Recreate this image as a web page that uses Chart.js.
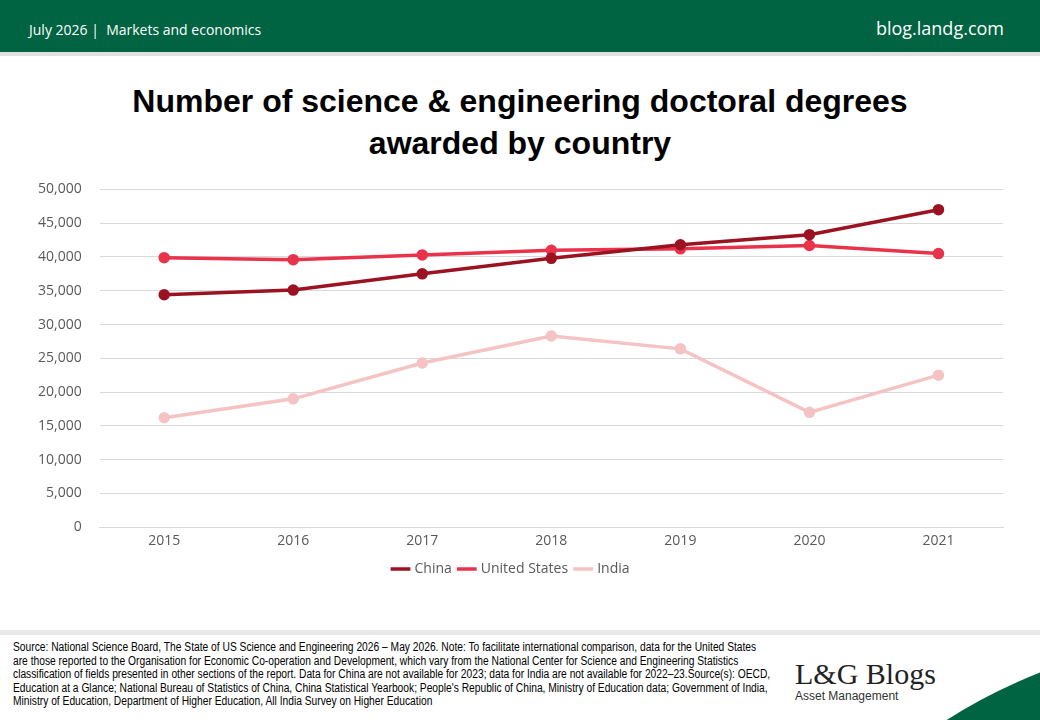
<!DOCTYPE html>
<html>
<head>
<meta charset="utf-8">
<script src="https://cdn.jsdelivr.net/npm/chart.js@4"></script>
<style>
  body { margin: 0; width: 1040px; height: 720px; position: relative; overflow: hidden; background: #fff; font-family: "Open Sans", sans-serif; }
  #top { position: absolute; left: 0; top: 0; width: 1040px; height: 52px; background: #006341; color: #fff; }
  #top .l { position: absolute; left: 29px; top: 20px; font-size: 14px; }
  #top .r { position: absolute; right: 36px; top: 16px; font-size: 18px; }
  #strip { position: absolute; left: 0; top: 52px; width: 1040px; height: 4px; background: #e0e0e0; }
  h1 { position: absolute; left: 0; width: 1040px; top: 80px; margin: 0; text-align: center; font: bold 32px/42px "Liberation Sans", Arial, sans-serif; color: #000; }
  #wrap { position: absolute; left: 20px; top: 163px; width: 1000px; height: 423px; }
  #foot { position: absolute; left: 0; top: 630px; width: 1040px; height: 90px; background: #fff; border-top: 5px solid #e8e8e8; box-sizing: border-box; }
  #foot p { position: absolute; left: 13px; top: 6px; width: 927px; margin: 0; font: 12.5px/13.6px "Liberation Sans", Arial, sans-serif; color: #000; transform: scaleX(0.82); transform-origin: 0 0; }
  #logo { position: absolute; left: 795px; top: 22px; font: 30px "Liberation Serif", serif; color: #222; }
  #logo span { display: block; font: 12px "Liberation Sans", Arial, sans-serif; margin-top: -2px; color: #333; }
  #swoosh { position: absolute; left: 840px; top: 40px; width: 420px; height: 160px; border-radius: 50%; background: #006341; transform: rotate(-24deg); }
</style>
</head>
<body>
<div id="top"><div class="l">July 2026 |&nbsp; Markets and economics</div><div class="r">blog.landg.com</div></div>
<div id="strip"></div>
<h1>Number of science &amp; engineering doctoral degrees<br>awarded by country</h1>
<div id="wrap"><canvas id="c"></canvas></div>
<div id="foot">
  <p>Source: National Science Board, The State of US Science and Engineering 2026 – May 2026. Note: To facilitate international comparison, data for the United States are those reported to the Organisation for Economic Co-operation and Development, which vary from the National Center for Science and Engineering Statistics classification of fields presented in other sections of the report. Data for China are not available for 2023; data for India are not available for 2022–23.Source(s): OECD, Education at a Glance; National Bureau of Statistics of China, China Statistical Yearbook; People's Republic of China, Ministry of Education data; Government of India, Ministry of Education, Department of Higher Education, All India Survey on Higher Education</p>
  <div id="logo">L&amp;G Blogs<span>Asset Management</span></div>
  <div id="swoosh"></div>
</div>
<script>
const years = ["2015", "2016", "2017", "2018", "2019", "2020", "2021"];
const china = [34400, 35100, 37500, 39800, 41800, 43300, 47000];
const unitedStates = [39900, 39600, 40300, 41000, 41200, 41700, 40500];
const india = [16200, 19000, 24300, 28300, 26400, 17000, 22500];

function series(label, data, color) {
  return { label, data, borderColor: color, backgroundColor: color, borderWidth: 3.5,
           pointRadius: 4, pointHoverRadius: 4, tension: 0 };
}

new Chart(document.getElementById("c"), {
  type: "line",
  data: {
    labels: years,
    datasets: [
      series("China", china, "#9b1320"),
      series("United States", unitedStates, "#e8334a"),
      series("India", india, "#f5c3c3")
    ]
  },
  options: {
    responsive: true,
    maintainAspectRatio: false,
    animation: false,
    layout: { padding: { left: 0, right: 17, top: 10, bottom: 0 } },
    scales: {
      x: {
        offset: true,
        grid: { display: false, tickLength: 0 },
        border: { color: "#d9d9d9" },
        ticks: { color: "#595959", font: { size: 14, family: "Open Sans" }, padding: 5 }
      },
      y: {
        min: 0, max: 50000,
        ticks: { stepSize: 5000, color: "#595959", font: { size: 14, family: "Open Sans" }, padding: 18,
                 callback: v => v.toLocaleString("en-US") },
        grid: { color: "#d9d9d9", drawTicks: false },
        border: { display: false }
      }
    },
    plugins: {
      tooltip: { enabled: false },
      legend: {
        position: "bottom",
        labels: { usePointStyle: true, pointStyle: "line", boxWidth: 30, color: "#595959",
                  font: { size: 14, family: "Open Sans" }, padding: 8 }
      }
    }
  }
});
</script>
</body>
</html>
